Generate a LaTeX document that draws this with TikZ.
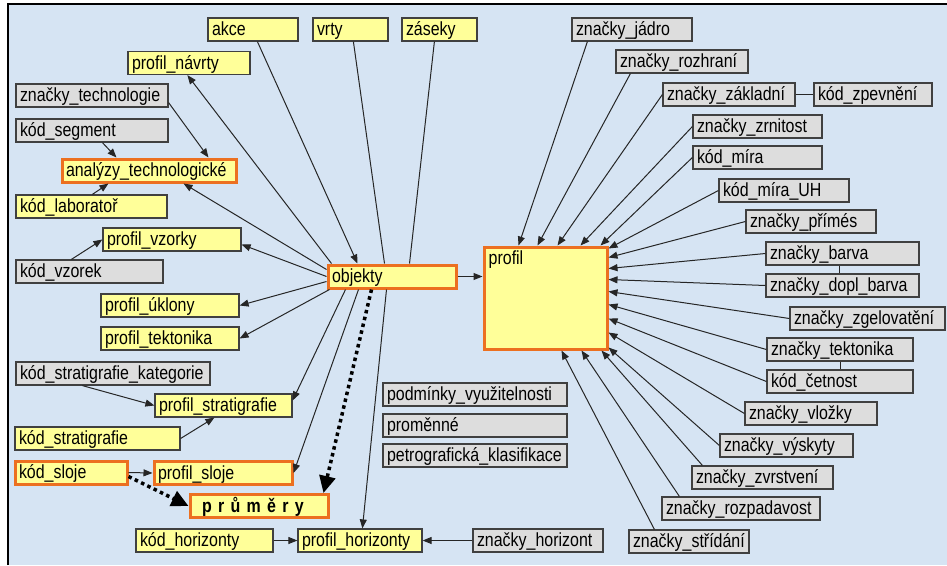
\documentclass[tikz,border=0pt]{standalone}
\usepackage{fontspec}
\setmainfont{Liberation Sans}[FakeStretch=0.84]
\usetikzlibrary{arrows.meta}
\definecolor{bgblue}{RGB}{214,228,243}
\definecolor{boxyellow}{RGB}{255,255,153}
\definecolor{boxgray}{RGB}{221,221,221}
\definecolor{edgeorange}{RGB}{236,112,32}
\tikzset{
  box/.style={rectangle, draw=black!75, line width=1.2pt, minimum height=23pt,
    inner xsep=4pt, inner ysep=0pt, text height=15pt, text depth=2.5pt, align=left},
  ybox/.style={box, fill=boxyellow},
  gbox/.style={box, fill=boxgray},
  obox/.style={box, fill=boxyellow, draw=edgeorange, line width=3pt},
  con/.style={draw=black!85, line width=1pt},
  arr/.style={con, -{Triangle[length=9pt,width=7pt]}},
  dotarr/.style={draw=black, line width=3.5pt, dash pattern=on 3.5pt off 3.5pt,
    -{Triangle[length=17pt,width=16pt]}},
}

\begin{document}
\begin{tikzpicture}[x=1pt, y=-1pt, font=\fontsize{19}{22}\selectfont]
    \useasboundingbox (0,0) rectangle (947,565);
    \fill[bgblue] (8,4) rectangle (947,565);
    \draw[line width=2pt] (8,565) -- (8,4) -- (947,4);

    % left part
    \node[ybox, text width=82pt] (akce) at (253,29.5) {akce};
    \node[ybox, text width=67pt] (vrty) at (350.5,29.5) {vrty};
    \node[ybox, text width=67pt] (zaseky) at (439.5,29.5) {záseky};
    \node[ybox, text width=114pt] (navrty) at (189,63) {profil\_návrty};
    \node[gbox, text width=144pt] (ztechnologie) at (92,95.5) {značky\_technologie};
    \node[gbox, text width=144pt] (ksegment) at (92,130.5) {kód\_segment};
    \node[obox, text width=166pt] (analyzy) at (149,170.5) {analýzy\_technologické};
    \node[ybox, text width=143pt] (laborator) at (91.5,206.5) {kód\_laboratoř};
    \node[ybox, text width=130pt] (vzorky) at (172,239.5) {profil\_vzorky};
    \node[gbox, text width=139pt] (kvzorek) at (89.5,271.5) {kód\_vzorek};
    \node[ybox, text width=130pt] (uklony) at (170,305.5) {profil\_úklony};
    \node[ybox, text width=130pt] (tektonika) at (170,338.5) {profil\_tektonika};
    \node[gbox, text width=186pt] (kstratkat) at (113,373.5) {kód\_stratigrafie\_kategorie};
    \node[ybox, text width=129pt] (stratigrafie) at (223.5,405.5) {profil\_stratigrafie};
    \node[ybox, text width=157pt] (kstrat) at (97.5,438.5) {kód\_stratigrafie};
    \node[obox, text width=104pt] (ksloje) at (71,472.5) {kód\_sloje};
    \node[obox, text width=130pt] (sloje) at (223,473) {profil\_sloje};
    \node[obox, text width=130pt] (prumery) at (259,506) {\hspace*{8pt}\textbf{p r ů m ě r y}};
    \node[ybox, text width=129pt] (khorizonty) at (204.5,540.5) {kód\_horizonty};
    \node[ybox, text width=116pt] (horizonty) at (360,540.5) {profil\_horizonty};
    \node[gbox, text width=122pt] (zhorizont) at (538,540.5) {značky\_horizont};
    \node[obox, text width=120pt] (objekty) at (392,276.5) {objekty};
    \node[gbox, text width=176pt] (podminky) at (475,394.5) {podmínky\_využitelnosti};
    \node[gbox, text width=176pt] (promenne) at (475,425.5) {proměnné};
    \node[gbox, text width=176pt] (petro) at (475,455.5) {petrografická\_klasifikace};

    % profil and right part
    \node[obox, minimum width=123pt, minimum height=102pt,
      label={[anchor=base west, inner sep=0pt, xshift=6pt, yshift=-19pt]north west:profil}] (profil) at (545.5,298) {};
    \node[gbox, text width=112pt] (zjadro) at (632,29.5) {značky\_jádro};
    \node[gbox, text width=124pt] (zrozhrani) at (682,61.5) {značky\_rozhraní};
    \node[gbox, text width=124pt] (zzakladni) at (729,94.5) {značky\_základní};
    \node[gbox, text width=110pt] (kzpevneni) at (873,94.5) {kód\_zpevnění};
    \node[gbox, text width=121pt] (zzrnitost) at (757.5,126.5) {značky\_zrnitost};
    \node[gbox, text width=121pt] (kmira) at (757.5,157.5) {kód\_míra};
    \node[gbox, text width=122pt] (kmirauh) at (784,190.5) {kód\_míra\_UH};
    \node[gbox, text width=122pt] (zprimes) at (811,221.5) {značky\_přímés};
    \node[gbox, text width=145pt] (zbarva) at (842.5,253.5) {značky\_barva};
    \node[gbox, text width=145pt] (zdoplbarva) at (842.5,285.5) {značky\_dopl\_barva};
    \node[gbox, text width=147pt] (zzgelovateni) at (867.5,318.5) {značky\_zgelovatění};
    \node[gbox, text width=138pt] (ztektonika) at (840,349.5) {značky\_tektonika};
    \node[gbox, text width=138pt] (kcetnost) at (840,381.5) {kód\_četnost};
    \node[gbox, text width=124pt] (zvlozky) at (811,413.5) {značky\_vložky};
    \node[gbox, text width=125pt] (zvyskyty) at (786.5,445.5) {značky\_výskyty};
    \node[gbox, text width=133pt] (zzvrstveni) at (762.5,477.5) {značky\_zvrstvení};
    \node[gbox, text width=150pt] (zrozpadavost) at (741,508.5) {značky\_rozpadavost};
    \node[gbox, text width=112pt] (zstridani) at (689,541.5) {značky\_střídání};

    % connectors around objekty
    \draw[arr] ([xshift=50pt]akce.south west) to ([xshift=31pt]objekty.north west);
    \draw[con] ([xshift=41pt]vrty.south west) to ([xshift=58pt]objekty.north west);
    \draw[con] ([xshift=33pt]zaseky.south west) to ([xshift=83pt]objekty.north west);
    \draw[arr] ([xshift=5pt]objekty.north west) to ([xshift=60pt]navrty.south west);
    \draw[arr] ([yshift=-6pt]objekty.north west) to ([xshift=123pt]analyzy.south west);
    \draw[arr] (objekty.west) to ([yshift=-5pt]vzorky.east);
    \draw[arr] ([yshift=-5pt]objekty.west) to (uklony.east);
    \draw[arr] ([xshift=3pt]objekty.south west) to (tektonika.east);
    \draw[arr] ([xshift=19pt]objekty.south west) to ([yshift=5pt]stratigrafie.east);
    \draw[arr] ([xshift=32pt]objekty.south west) to (sloje.east);
    \draw[dotarr] ([xshift=45pt]objekty.south west) to ([xshift=-6pt]prumery.north east);
    \draw[arr] ([xshift=60pt]objekty.south west) to ([xshift=65pt]horizonty.north west);
    \draw[arr] (objekty.east) to (objekty.east -| profil.west);

    % connectors on the left
    \draw[arr] ([yshift=5pt]ztechnologie.south east) to ([xshift=148pt]analyzy.north west);
    \draw[arr] ([xshift=87pt]ksegment.south west) to ([xshift=56pt]analyzy.north west);
    \draw[arr] ([xshift=77pt]laborator.north west) to ([xshift=48pt]analyzy.south west);
    \draw[arr] ([xshift=56pt]kvzorek.north west) to (vzorky.west);
    \draw[arr] ([xshift=67pt]kstratkat.south west) to (stratigrafie.west);
    \draw[arr] (kstrat.east) to ([xshift=60pt]stratigrafie.south west);
    \draw[arr] (ksloje.east) to (sloje.west);
    \draw[dotarr] ([yshift=-4pt]ksloje.east) to (prumery.west);
    \draw[arr] (khorizonty.east) to (horizonty.west);
    \draw[arr] (zhorizont.west) to (horizonty.east);

    % connectors into profil
    \draw[arr] ([xshift=16pt]zjadro.south west) to ([xshift=36pt]profil.north west);
    \draw[arr] ([xshift=15pt]zrozhrani.south west) to ([xshift=55pt]profil.north west);
    \draw[arr] (zzakladni.west) to ([xshift=75pt]profil.north west);
    \draw[arr] (zzrnitost.west) to ([xshift=98pt]profil.north west);
    \draw[arr] (kmira.west) to ([xshift=118pt]profil.north west);
    \draw[arr] (kmirauh.west) to ([yshift=-3pt]profil.north east);
    \draw[arr] (zprimes.west) to ([yshift=-12pt]profil.north east);
    \draw[arr] (zbarva.west) to ([yshift=-23pt]profil.north east);
    \draw[arr] (zdoplbarva.west) to ([yshift=-34pt]profil.north east);
    \draw[arr] (zzgelovateni.west) to ([yshift=-46pt]profil.north east);
    \draw[arr] (ztektonika.west) to ([yshift=-59pt]profil.north east);
    \draw[arr] (kcetnost.west) to ([yshift=-73pt]profil.north east);
    \draw[arr] (zvlozky.west) to ([yshift=-87pt]profil.north east);
    \draw[arr] (zvyskyty.west) to ([yshift=3pt]profil.south east);
    \draw[arr] ([xshift=11pt]zzvrstveni.north west) to ([xshift=-7pt]profil.south east);
    \draw[arr] ([xshift=18pt]zrozpadavost.north west) to ([xshift=-27pt]profil.south east);
    \draw[arr] ([xshift=26pt]zstridani.north west) to ([xshift=-47pt]profil.south east);

    % plain links
    \draw[con] (zzakladni.east) to (kzpevneni.west);
    \draw[con] ([xshift=-3pt]zbarva.south) to ([xshift=-3pt]zdoplbarva.north);
    \draw[con] (ztektonika.south) to (kcetnost.north);
\end{tikzpicture}
\end{document}
